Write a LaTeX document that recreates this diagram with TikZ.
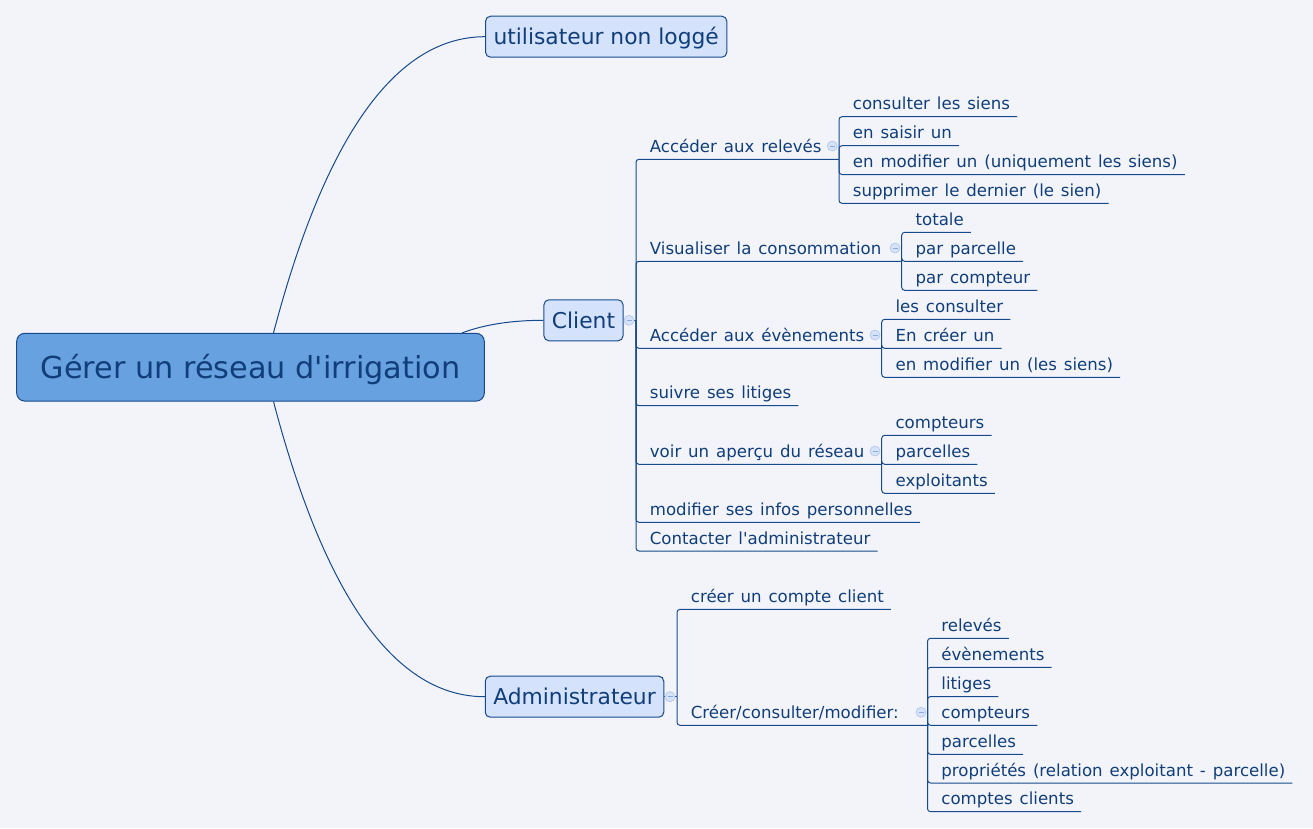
\documentclass[tikz,border=0pt]{standalone}
\usepackage{fontspec}
\setmainfont{DejaVu Sans}
\usetikzlibrary{calc}
\definecolor{bg}{RGB}{243,244,250}
\definecolor{txt}{RGB}{16,62,122}
\definecolor{ln}{RGB}{22,74,140}
\definecolor{rootfill}{RGB}{104,161,223}
\definecolor{subfill}{RGB}{213,226,252}
\definecolor{foldfill}{RGB}{214,226,248}
\definecolor{foldline}{RGB}{172,197,236}
\definecolor{foldminus}{RGB}{140,170,220}
\newcommand{\leaffont}{\fontsize{16.6}{20}\selectfont\spaceskip 6.9pt\relax}
\newcommand{\twig}[5]{%
  \node[leaf, anchor=base west] (#1) at (#3+13.7, #4-7) {#5};
  \draw[branch] (#2) |- ($(#1.base east)+(7,7)$);
}
\newcommand{\bough}[7]{%
  \coordinate (#6) at (#7, #4);
  \node[leaf, anchor=base west] (#1) at (#3+13.7, #4-7) {#5};
  \draw[branch] (#2) |- (#6);
}
\begin{document}
\begin{tikzpicture}[x=1pt,y=-1pt,
  leaf/.style={inner sep=0pt, font=\leaffont, text=txt},
  branch/.style={draw=ln, line width=1pt, rounded corners=3pt},
  curve/.style={draw=ln, line width=1pt},
  topic/.style={draw=ln, fill=subfill, rounded corners=5pt, line width=1pt,
    font=\fontsize{21.8}{26}\selectfont, text=txt, inner xsep=8pt,
    text height=15.8pt, text depth=0pt, minimum height=41pt},
  rootbox/.style={draw=ln, fill=rootfill, rounded corners=8pt, line width=1pt,
    font=\fontsize{30.3}{36}\selectfont, text=txt, minimum width=467.6pt,
    minimum height=67.7pt, text height=21.9pt, text depth=0pt},
  fold/.style={circle, draw=foldline, fill=foldfill, minimum size=10pt, inner sep=0pt,
    line width=0.6pt, path picture={\draw[foldminus, line width=0.8pt]
      ($(path picture bounding box.center)+(-2.5,0)$) -- ++(5,0);}}
]
\fill[bg] (0,0) rectangle (1313,828);
\useasboundingbox (0,0) rectangle (1313,828);

% main topics
\node[rootbox] (root) at (250.5,367.2) {Gérer un réseau d\textquotesingle irrigation};
\node[topic] (user) at (606.2,36.7) {utilisateur non loggé};
\node[topic] (client) at (583.5,320.3) {Client};
\node[topic] (admin) at (574.5,696.7) {Administrateur};

\coordinate (rt) at ($(root.north west)+(257.3,0)$);
\coordinate (rb) at ($(root.south west)+(257.3,0)$);
\coordinate (rc) at ($(root.north west)+(446,0)$);
\draw[curve] (rt) .. controls (325.3,136.3) and (395.7,36.7) .. (user.west);
\draw[curve] (rc) .. controls (484.2,324.6) and (511.4,320.3) .. (client.west);
\draw[curve] (rb) .. controls (325.3,598.5) and (395.9,696.7) .. (admin.west);

% client branches
\coordinate (Cj) at (636,320.3);
\draw[curve] (client.east) -- (Cj);
\node[fold] (fc) at (629,320.3) {};

\bough{rel}{Cj}{636}{159.3}{Accéder aux relevés}{J1}{839}
\twig{r1}{J1}{839}{116.7}{consulter les siens}
\twig{r2}{J1}{839}{145.7}{en saisir un}
\twig{r3}{J1}{839}{174.5}{en modifier un (uniquement les siens)}
\twig{r4}{J1}{839}{203.3}{supprimer le dernier (le sien)}
\node[fold] (f1) at (832.3,146) {};

\bough{vis}{Cj}{636}{261.3}{Visualiser la consommation}{J2}{901.7}
\twig{v1}{J2}{901.7}{232.3}{totale}
\twig{v2}{J2}{901.7}{261.3}{par parcelle}
\twig{v3}{J2}{901.7}{290.3}{par compteur}
\node[fold] (f2) at (895,248) {};

\bough{evt}{Cj}{636}{348.3}{Accéder aux évènements}{J3}{881.7}
\twig{e1}{J3}{881.7}{319.3}{les consulter}
\twig{e2}{J3}{881.7}{348.3}{En créer un}
\twig{e3}{J3}{881.7}{377.3}{en modifier un (les siens)}
\node[fold] (f3) at (875,335) {};

\twig{lit}{Cj}{636}{405.7}{suivre ses litiges}

\bough{apr}{Cj}{636}{464.3}{voir un aperçu du réseau}{J4}{881.7}
\twig{a1}{J4}{881.7}{435.3}{compteurs}
\twig{a2}{J4}{881.7}{464.3}{parcelles}
\twig{a3}{J4}{881.7}{493.3}{exploitants}
\node[fold] (f4) at (875,451) {};

\twig{inf}{Cj}{636}{522.3}{modifier ses infos personnelles}
\twig{cad}{Cj}{636}{551}{Contacter l\textquotesingle administrateur}

% admin branches
\coordinate (Aj) at (677,696.7);
\draw[curve] (admin.east) -- (Aj);
\node[fold] (fa) at (670,696.7) {};

\twig{cc}{Aj}{677}{609.3}{créer un compte client}
\bough{ccm}{Aj}{677}{725.3}{Créer/consulter/modifier:}{J5}{927.5}
\twig{m1}{J5}{927.5}{638.3}{relevés}
\twig{m2}{J5}{927.5}{667.3}{évènements}
\twig{m3}{J5}{927.5}{696.5}{litiges}
\twig{m4}{J5}{927.5}{725.3}{compteurs}
\twig{m5}{J5}{927.5}{754.3}{parcelles}
\twig{m6}{J5}{927.5}{783}{propriétés (relation exploitant - parcelle)}
\twig{m7}{J5}{927.5}{811.7}{comptes clients}
\node[fold] (f5) at (921,712.3) {};
\end{tikzpicture}
\end{document}
